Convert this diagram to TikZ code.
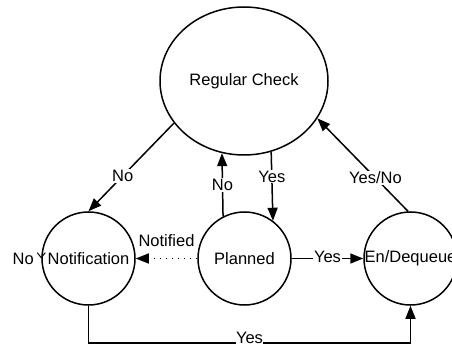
\documentclass[tikz,border=0pt]{standalone}
\usepackage{fontspec}
\setmainfont{Liberation Sans}
\usetikzlibrary{shapes.geometric,arrows.meta,calc}
\begin{document}
\begin{tikzpicture}[x=1pt,y=-1pt,
  every node/.style={font=\fontsize{16.5}{18}\selectfont},
  state/.style={draw, circle, line width=1.5pt, minimum size=93pt, inner sep=0pt},
  conn/.style={line width=1.5pt, -{Triangle[length=13pt,width=10pt]}},
  lbl/.style={fill=white, inner sep=1pt}]
\useasboundingbox (0,0) rectangle (452,347);
\fill[white] (0,0) rectangle (452,347);
\clip (0,0) rectangle (452,347);
\node[draw, ellipse, line width=1.5pt, minimum width=168pt, minimum height=148pt, inner sep=0pt] (RC) at (244,81) {Regular Check};
\node[state] (N) at (88.5,258.5) {\makebox[0pt]{Notification}};
\node[state] (P) at (244.5,258.5) {\makebox[0pt]{Planned}};
\node[state] (E) at (410.5,258.5) {\makebox[0pt]{En/Dequeue}};
\draw[conn] (RC.211.6) -- node[lbl,pos=0.6]{No} (N.north);
\draw[conn] (P.117.5) -- node[lbl,pos=0.5]{No} (RC.253.65);
\draw[conn] (RC.291.9) -- node[lbl,pos=0.36]{Yes} (P.53.7);
\draw[conn] (E.93) -- node[lbl,pos=0.36]{Yes/No} (RC.333.1);
\draw[conn, dash pattern=on 1.5pt off 4.5pt] (P.west) -- node[above=11pt, inner sep=0pt]{Notified} (N.east);
\draw[conn] (P.east) -- node[lbl, yshift=2pt]{Yes} (E.west);
\draw[conn] (N.south) -- ++(0,37) -| node[lbl,pos=0.25,yshift=4.5pt, inner sep=0.5pt]{Yes} (E.south);
\draw[line width=1pt, -{Straight Barb[length=5pt,width=8pt]}] ($(N.west)+(0,-2)$) -- (N.west) node[left=7pt, inner sep=0pt]{No};
\end{tikzpicture}
\end{document}
